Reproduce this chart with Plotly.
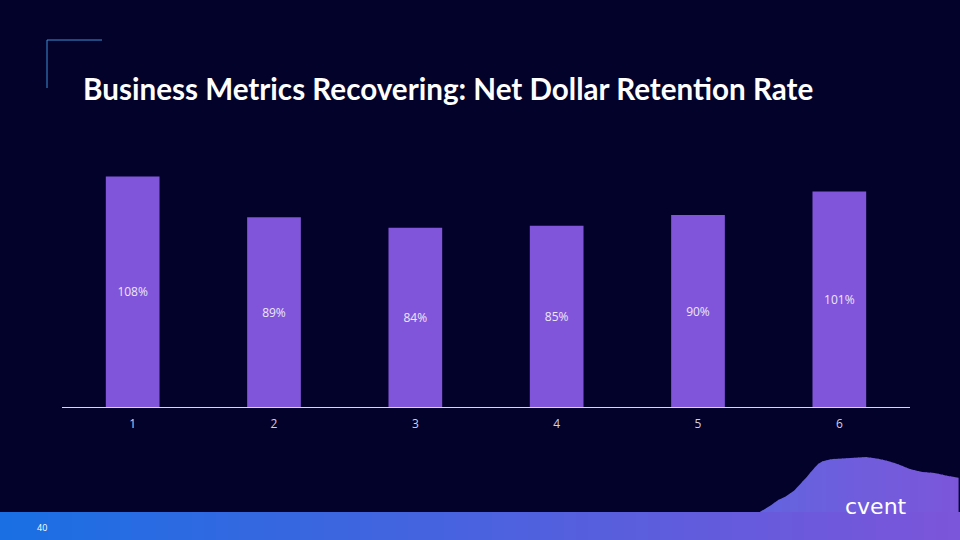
import plotly.graph_objects as go

categories = ["1", "2", "3", "4", "5", "6"]
values = [108, 89, 84, 85, 90, 101]
labels = ["108%", "89%", "84%", "85%", "90%", "101%"]

W, H = 960, 540
L, R, T, B = 62, 910, 151, 407  # plot area in pixels


def px(x):
    return (x - L) / (R - L)


def py(y):
    return (B - y) / (B - T)


BG = "#03022a"
BAR = "#8155d9"

fig = go.Figure()
fig.add_trace(go.Bar(
    x=categories, y=values, text=labels,
    textposition="inside", insidetextanchor="middle",
    textfont=dict(color="#ece8f7", size=12, family="Open Sans"),
    marker=dict(color=BAR, line=dict(width=0)),
    hoverinfo="skip",
))

shapes = []
# corner decoration
shapes.append(dict(type="line", xref="paper", yref="paper", x0=px(47), y0=py(40), x1=px(102), y1=py(40),
                   line=dict(color="#3f8fd6", width=1)))
shapes.append(dict(type="line", xref="paper", yref="paper", x0=px(47), y0=py(40), x1=px(47), y1=py(88),
                   line=dict(color="#3f8fd6", width=1)))


def lerp(c1, c2, t):
    a = [int(c1[i:i + 2], 16) for i in (1, 3, 5)]
    b = [int(c2[i:i + 2], 16) for i in (1, 3, 5)]
    return "#%02x%02x%02x" % tuple(round(a[k] + (b[k] - a[k]) * t) for k in range(3))


# brush splotch bottom right (top edge as a function of x), drawn in gradient stripes
edge = [(758, 513), (770, 506), (778, 500), (785, 497), (795, 490), (800, 484), (806, 478),
        (810, 473), (816, 466), (820, 462), (832, 459), (850, 458), (866, 457), (880, 459),
        (895, 463), (910, 469), (922, 472), (935, 473), (948, 476), (960, 478)]


def top_y(x):
    for (xa, ya), (xb, yb) in zip(edge[:-1], edge[1:]):
        if xa <= x <= xb:
            return ya + (yb - ya) * (x - xa) / (xb - xa)
    return edge[-1][1]


xs = list(range(758, 961, 4))
for i in range(len(xs) - 1):
    xa, xb = xs[i], min(xs[i + 1] + 0.6, 960)
    t = (xa - 758) / (960 - 758)
    col = lerp("#6364df", "#7c56da", t)
    path = (f"M {px(xa)},{py(513)} L {px(xa)},{py(top_y(xa))} L {px(xb)},{py(top_y(xb))} "
            f"L {px(xb)},{py(513)} Z")
    shapes.append(dict(type="path", xref="paper", yref="paper", path=path,
                       fillcolor=col, line=dict(width=0), layer="below"))

# gradient bottom band
N = 80
for i in range(N):
    x0 = W * i / N
    x1 = W * (i + 1) / N + 0.5
    col = lerp("#1a6fe3", "#7b55da", i / (N - 1))
    shapes.append(dict(type="rect", xref="paper", yref="paper", x0=px(x0), x1=px(x1), y0=py(540), y1=py(512),
                       fillcolor=col, line=dict(width=0), layer="below"))

annotations = [
    dict(text="<b>Business Metrics Recovering: Net Dollar Retention Rate</b>", xref="paper", yref="paper",
         x=px(81), y=py(88), xanchor="left", yanchor="middle", showarrow=False,
         font=dict(color="white", size=29.6, family="Lato")),
    dict(text="40", xref="paper", yref="paper", x=px(35), y=py(527), xanchor="left", yanchor="middle",
         showarrow=False, font=dict(color="white", size=9, family="Open Sans")),
    dict(text="cvent", xref="paper", yref="paper", x=px(876), y=py(506), xanchor="center", yanchor="middle",
         showarrow=False, font=dict(color="white", size=22, family="DejaVu Sans")),
]

fig.update_layout(
    width=W, height=H,
    margin=dict(l=L, r=W - R, t=T, b=H - B),
    paper_bgcolor=BG, plot_bgcolor=BG,
    showlegend=False,
    bargap=0.62,
    shapes=shapes,
    annotations=annotations,
    xaxis=dict(showline=True, linecolor="#d8d8e8", linewidth=1, showgrid=False, zeroline=False,
               ticks="", tickfont=dict(color="#d0d0e4", size=12, family="Open Sans"), ticklabelstandoff=6),
    yaxis=dict(range=[0, 120], visible=False, showgrid=False, zeroline=False),
)

fig.write_html("out.html", config={"displayModeBar": False},
               post_script="document.body.style.margin='0';document.body.style.background='%s';" % BG)
